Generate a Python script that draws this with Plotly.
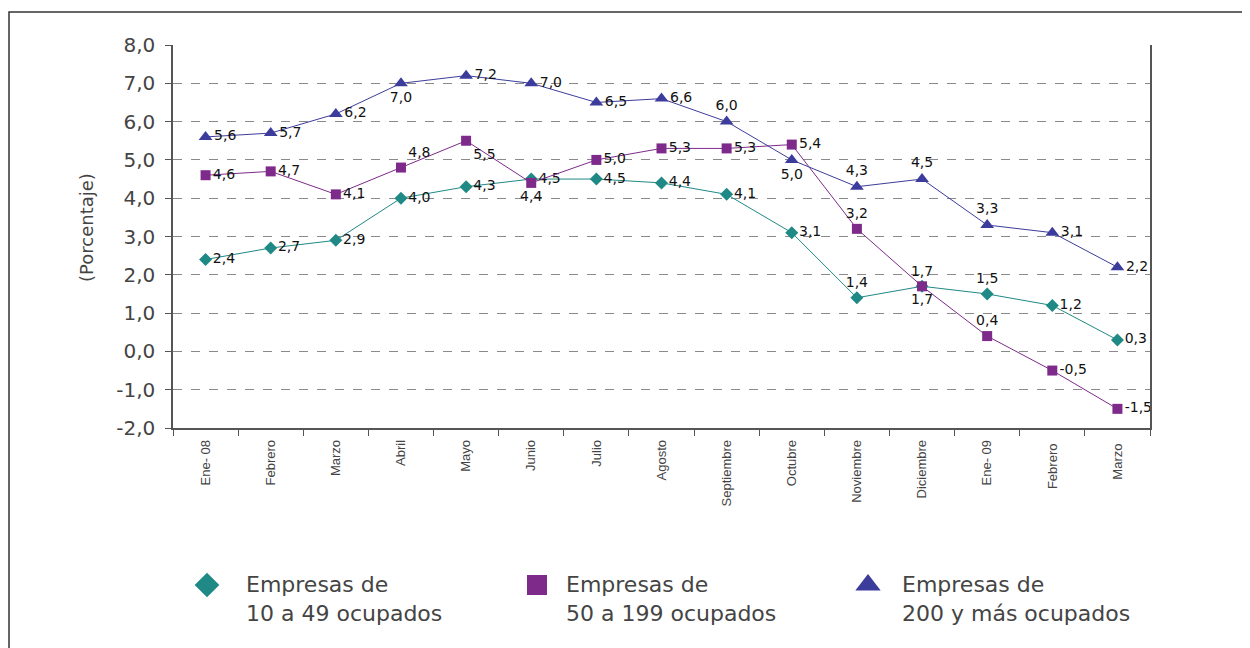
import plotly.graph_objects as go

categories = ["Ene- 08", "Febrero", "Marzo", "Abril", "Mayo", "Junio", "Julio", "Agosto",
              "Septiembre", "Octubre", "Noviembre", "Diciembre", "Ene- 09", "Febrero ", "Marzo "]
small = [2.4, 2.7, 2.9, 4.0, 4.3, 4.5, 4.5, 4.4, 4.1, 3.1, 1.4, 1.7, 1.5, 1.2, 0.3]
medium = [4.6, 4.7, 4.1, 4.8, 5.5, 4.4, 5.0, 5.3, 5.3, 5.4, 3.2, 1.7, 0.4, -0.5, -1.5]
large = [5.6, 5.7, 6.2, 7.0, 7.2, 7.0, 6.5, 6.6, 6.0, 5.0, 4.3, 4.5, 3.3, 3.1, 2.2]
series_names = ["Empresas de<br>10 a 49 ocupados", "Empresas de<br>50 a 199 ocupados",
                "Empresas de<br>200 y más ocupados"]
y_ticks = [-2, -1, 0, 1, 2, 3, 4, 5, 6, 7, 8]
y_tick_labels = ["-2,0", "-1,0", "0,0", "1,0", "2,0", "3,0", "4,0", "5,0", "6,0", "7,0", "8,0"]

R, TC, BC, TR, BR = "middle right", "top center", "bottom center", "top right", "bottom right"
pos_small = [R] * 10 + [TC, TC, TC, R, R]
pos_medium = [R, R, R, TR, BR, BC, R, R, R, R, TC, BC, TC, R, R]
pos_large = [R, R, R, BC, R, R, R, R, TC, BC, TC, TC, TC, R, R]

TEAL = "#1f8985"
PURPLE = "#7e2a8b"
BLUE = "#3c3c9c"
GRAY = "#444444"
FONT = "DejaVu Sans"
FONT2 = "Liberation Sans"

# page body adds an 8px offset; layout values below are screen pixels
OFF = 8
W, H = 1250, 648
PL, PR, PT, PB = 173, 1150, 45, 428      # main plot box on screen
BOT = 636                                 # bottom of plotting region on screen
ml, mt = PL - OFF, PT - OFF
mr = W - (PR - OFF)
mb = H - (BOT - OFF)
ph = BOT - PT
pw = PR - PL
main_bottom = (BOT - PB) / ph


def fmt(v):
    return f"{v:.1f}".replace(".", ",")


fig = go.Figure()
specs = [
    (small, pos_small, TEAL, "diamond", 10),
    (medium, pos_medium, PURPLE, "square", 10),
    (large, pos_large, BLUE, "triangle-up", 12),
]
for vals, pos, col, sym, sz in specs:
    fig.add_trace(go.Scatter(
        x=categories, y=vals, mode="lines+markers+text",
        line=dict(color=col, width=1),
        marker=dict(symbol=sym, size=sz, color=col),
        text=[fmt(v) for v in vals], textposition=pos,
        textfont=dict(family=FONT, size=14, color="#111111"),
        showlegend=False, cliponaxis=False,
    ))

# Legend drawn on an auxiliary axis in screen-pixel units
leg_x = [207, 537, 868]
leg_text_x = [244, 564, 900]
leg_sym = ["diamond", "square", "triangle-up"]
leg_size = [19, 20, 22]
for (vals, pos, col, sym, sz), lx, tx, name, ls, lsz in zip(specs, leg_x, leg_text_x, series_names, leg_sym, leg_size):
    fig.add_trace(go.Scatter(
        x=[lx], y=[585], mode="markers", xaxis="x2", yaxis="y2",
        marker=dict(symbol=ls, size=lsz, color=col),
        showlegend=False, hoverinfo="skip",
    ))
    fig.add_annotation(x=tx, y=598.5, xref="x2", yref="y2", text=name, showarrow=False,
                       xanchor="left", yanchor="middle", align="left",
                       font=dict(family=FONT, size=22, color=GRAY))

leg_top = BOT - 0.3 * ph
fig.update_layout(
    width=W, height=H, showlegend=False,
    margin=dict(l=ml, r=mr, t=mt, b=mb, pad=0, autoexpand=False),
    plot_bgcolor="white", paper_bgcolor="white",
    font=dict(family=FONT, color=GRAY),
    xaxis=dict(
        type="category", range=[-0.5, 14.5], tickangle=-90, automargin=False,
        tickfont=dict(family=FONT2, size=13, color=GRAY), ticklabelstandoff=5, showgrid=False,
        showline=True, linecolor="#555555", linewidth=1.5,
        ticks="outside", tickson="boundaries", ticklen=6, tickcolor="#555555",
        anchor="y", zeroline=False,
    ),
    yaxis=dict(
        domain=[main_bottom, 1], range=[-2, 8], tickvals=y_ticks, ticktext=y_tick_labels,
        tickfont=dict(family=FONT, size=20, color=GRAY), ticklabelstandoff=6, automargin=False,
        showgrid=True, gridcolor="#8a8a8a", griddash="dash", gridwidth=1,
        showline=True, linecolor="#555555", linewidth=1.5, mirror=True,
        ticks="outside", ticklen=6, tickcolor="#555555", zeroline=False,
    ),
    xaxis2=dict(domain=[0, 1], range=[PL, PR], visible=False, anchor="y2", automargin=False),
    yaxis2=dict(domain=[0, 0.3], range=[BOT, leg_top], visible=False, anchor="x2", automargin=False),
)

fig.add_annotation(x=(86 - PL) / pw, y=(BOT - 228) / ph, xref="paper", yref="paper",
                   xanchor="center", yanchor="middle",
                   text="(Porcentaje)", textangle=-90, showarrow=False,
                   font=dict(family=FONT, size=18, color=GRAY))

fig.add_shape(type="rect", xref="paper", yref="paper",
              x0=(OFF + 1 - PL) / pw, x1=1.3, y0=-0.2, y1=(BOT - 12) / ph,
              line=dict(color="#333333", width=1.5), fillcolor="rgba(0,0,0,0)", layer="below")

fig.write_html("out.html")
